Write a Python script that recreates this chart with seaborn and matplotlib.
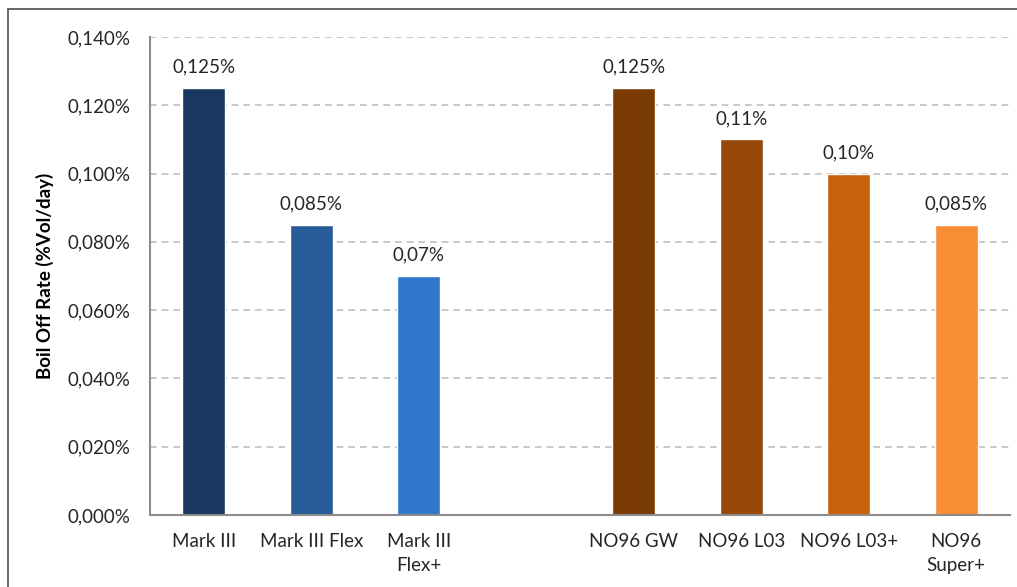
import matplotlib
matplotlib.use("Agg")
import matplotlib.pyplot as plt
from matplotlib.patches import Rectangle
from matplotlib.ticker import FuncFormatter, MultipleLocator
import numpy as np
import pandas as pd
import seaborn as sns

# data
categories = ["Mark III", "Mark III Flex", "Mark III\nFlex+", " ",
              "NO96 GW", "NO96 L03", "NO96 L03+", "NO96\nSuper+"]
values = [0.125, 0.085, 0.07, np.nan, 0.125, 0.11, 0.10, 0.085]
value_labels = ["0,125%", "0,085%", "0,07%", "", "0,125%", "0,11%", "0,10%", "0,085%"]
colors = ["#1A3760", "#295D9A", "#3077CC", "#FFFFFF",
          "#7A3A05", "#974808", "#C9600C", "#F78E35"]

W, H = 1017, 587
FONT = ["Lato", "DejaVu Sans"]
TEXT_COLOR = "#262626"
FS = 13.5

sns.set_theme(style="white")
plt.rcParams["font.family"] = FONT

df = pd.DataFrame({"category": categories, "value": values})
df_plot = df.dropna()

fig = plt.figure(figsize=(W / 100, H / 100), dpi=100)
ax = fig.add_axes([150 / W, (H - 515) / H, 860 / W, 478 / H])

sns.barplot(
    data=df_plot,
    x="category",
    y="value",
    order=categories,
    hue="category",
    palette=dict(zip(categories, colors)),
    legend=False,
    width=0.4,
    saturation=1,
    ax=ax,
)

ax.set_ylim(0, 0.14)
ax.yaxis.set_major_locator(MultipleLocator(0.02))
ax.yaxis.set_major_formatter(
    FuncFormatter(lambda v, p: f"{v:.3f}".replace(".", ",") + "%"))
ax.grid(axis="y", color="#C0C0C0", linestyle=(0, (4, 3)), linewidth=1.2)
ax.set_axisbelow(True)

for side in ["top", "right"]:
    ax.spines[side].set_visible(False)
for side in ["left", "bottom"]:
    ax.spines[side].set_color("#8C8C8C")
    ax.spines[side].set_linewidth(1.5)

ax.tick_params(axis="both", length=0, labelsize=FS, colors=TEXT_COLOR)
ax.tick_params(axis="y", pad=14)
ax.tick_params(axis="x", pad=13)
for t in ax.get_xticklabels():
    t.set_linespacing(1.5)
ax.set_xlabel("")
ax.set_ylabel("Boil Off Rate (%Vol/day)", fontsize=13.5, fontweight="bold",
              color="black", labelpad=10)

for i, (v, lab) in enumerate(zip(values, value_labels)):
    if np.isnan(v):
        continue
    ax.annotate(lab, (i, v), xytext=(0, 9), textcoords="offset points",
                ha="center", va="bottom", fontsize=FS, color=TEXT_COLOR)

# outer chart frame (partly cut by the picture edge)
fig.add_artist(Rectangle((8 / W, -0.1), 1.2, (H - 9) / H + 0.1,
                         transform=fig.transFigure, fill=False,
                         edgecolor="#595959", linewidth=1.3))

fig.savefig("out.png", dpi=100)
